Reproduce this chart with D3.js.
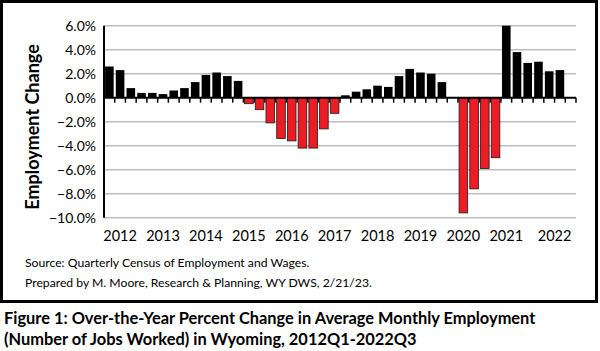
<!DOCTYPE html>
<html><head><meta charset="utf-8">
<script src="https://cdn.jsdelivr.net/npm/d3@7"></script>
<style>body{margin:0;background:#fff}svg{display:block}</style>
</head><body>
<script>
const years = ["2012","2013","2014","2015","2016","2017","2018","2019","2020","2021","2022"];
const quarters = ["Q1","Q2","Q3","Q4"];
const values = [
  2.6, 2.3, 0.8, 0.4,
  0.4, 0.3, 0.6, 0.8,
  1.3, 1.9, 2.1, 1.8,
  1.4, -0.5, -1.0, -2.1,
  -3.4, -3.6, -4.2, -4.2,
  -2.6, -1.3, 0.2, 0.5,
  0.7, 1.0, 0.9, 1.8,
  2.4, 2.1, 2.0, 1.3,
  0.05, -9.6, -7.6, -5.9,
  -5.0, 6.0, 3.8, 2.9,
  3.0, 2.2, 2.3
];
const yTicks = [6, 4, 2, 0, -2, -4, -6, -8, -10];
const yTitle = "Employment Change";
const sourceLines = ["Source: Quarterly Census of Employment and Wages.",
  "Prepared by M. Moore, Research & Planning, WY DWS, 2/21/23."];
const captionLines = ["Figure 1: Over-the-Year Percent Change in Average Monthly Employment",
  "(Number of Jobs Worked) in Wyoming, 2012Q1-2022Q3"];

const categories = [];
years.forEach(y => quarters.forEach(q => categories.push(y + q)));
const data = values.map((v, i) => ({cat: categories[i], v}));

const W = 600, H = 351;
const svg = d3.select("body").append("svg").attr("width", W).attr("height", H);
svg.append("rect").attr("width", W).attr("height", H).attr("fill", "#fff");
svg.append("rect").attr("x", 1.5).attr("y", 1.5).attr("width", 595).attr("height", 300)
  .attr("fill", "none").attr("stroke", "#000").attr("stroke-width", 3);

const font = "Lato, 'Open Sans', sans-serif";
const x = d3.scaleBand().domain(categories).range([104, 576]).paddingInner(0.2).paddingOuter(0.1);
const xb = d3.scaleBand().domain(categories).range([104, 576]).padding(0);
const y = d3.scaleLinear().domain([-10, 6]).range([217.7, 25.7]);

// gridlines
svg.append("g").selectAll("line").data(yTicks.filter(t => t !== 0)).join("line")
  .attr("x1", 104).attr("x2", 576).attr("y1", d => y(d)).attr("y2", d => y(d))
  .attr("stroke", "#bdbdbd").attr("stroke-width", 1.5);

// y tick labels
svg.append("g").selectAll("text").data(yTicks).join("text")
  .attr("x", 96).attr("y", d => y(d)).attr("dy", "0.36em").attr("text-anchor", "end")
  .attr("font-family", font).attr("font-size", 14).attr("fill", "#000")
  .text(d => d3.format(".1f")(d) + "%");

// bars
svg.append("g").selectAll("rect").data(data).join("rect")
  .attr("x", d => x(d.cat)).attr("width", x.bandwidth())
  .attr("y", d => y(Math.max(0, d.v))).attr("height", d => Math.abs(y(d.v) - y(0)))
  .attr("fill", d => d.v < 0 ? "#ed1c24" : "#000")
  .attr("stroke", "#1a1a1a").attr("stroke-width", d => d.v < 0 ? 0.8 : 0);

// zero axis + ticks
svg.append("line").attr("x1", 104).attr("x2", 576).attr("y1", y(0)).attr("y2", y(0))
  .attr("stroke", "#000").attr("stroke-width", 2);
const bounds = categories.map(c => xb(c)).concat([xb.range()[1]]);
svg.append("g").selectAll("line").data(bounds.slice(1)).join("line")
  .attr("x1", d => d).attr("x2", d => d).attr("y1", y(0)).attr("y2", y(0) + 5)
  .attr("stroke", "#000").attr("stroke-width", 1.5);
// y axis line
svg.append("line").attr("x1", 104).attr("x2", 104).attr("y1", y(6)).attr("y2", y(-10))
  .attr("stroke", "#000").attr("stroke-width", 2);

// year labels
svg.append("g").selectAll("text").data(years).join("text")
  .attr("x", (d, i) => i === years.length - 1 ? xb(d + "Q1") + 2 * xb.bandwidth() : xb(d + "Q2") + xb.bandwidth() / 2)
  .attr("y", 241).attr("text-anchor", "middle")
  .attr("font-family", font).attr("font-size", 14.5).attr("fill", "#000").text(d => d);

// y title
svg.append("text").attr("transform", "translate(39,127) rotate(-90)")
  .attr("text-anchor", "middle").attr("font-family", font).attr("font-weight", "bold")
  .attr("font-size", 18).text(yTitle);

// source
svg.append("g").selectAll("text").data(sourceLines).join("text")
  .attr("x", 25).attr("y", (d, i) => 267 + i * 20)
  .attr("font-family", font).attr("font-size", 12.2).text(d => d);

// caption
svg.append("g").selectAll("text").data(captionLines).join("text")
  .attr("x", 4).attr("y", (d, i) => 324 + i * 21)
  .attr("font-family", font).attr("font-weight", "bold").attr("font-size", 16.4).text(d => d);
</script>
</body></html>
